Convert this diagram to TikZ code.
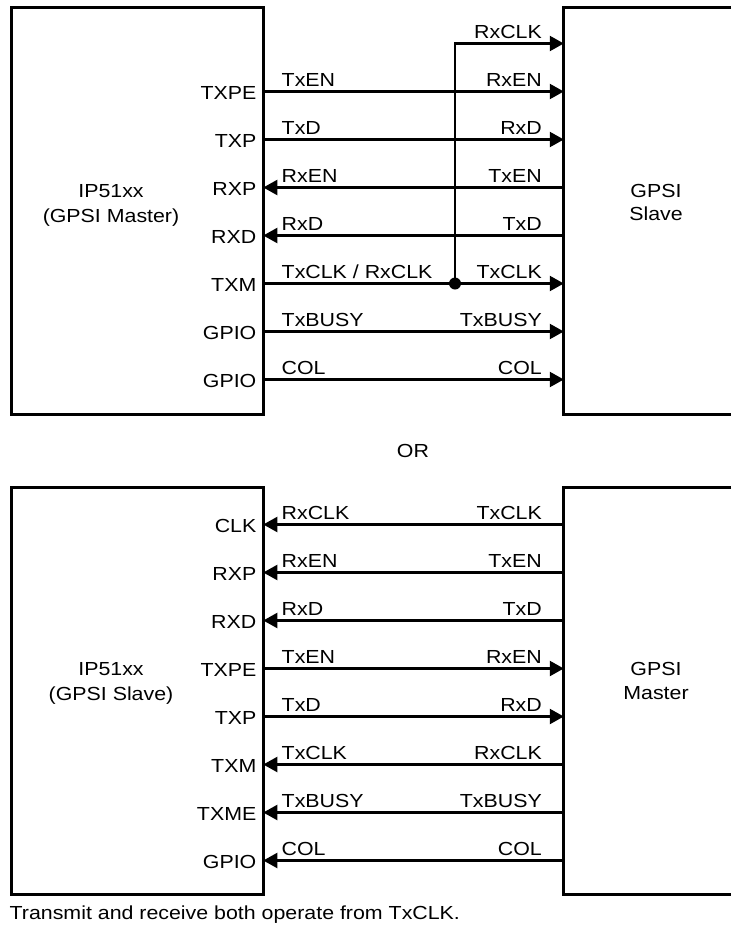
\documentclass[tikz,border=0pt]{standalone}
\usepackage{fontspec}
\setmainfont{Liberation Sans}[FakeStretch=1.13]
\usetikzlibrary{arrows.meta}
\begin{document}
\begin{tikzpicture}[x=1pt,y=-1pt,
  box/.style={draw,line width=3pt,inner sep=0pt,outer sep=0pt,anchor=north west},
  ghost/.style={inner sep=0pt,outer sep=0pt,anchor=north west},
  wire/.style={line width=2.2pt},
  tor/.style={-{Triangle[length=14pt,width=15pt]}},
  tol/.style={{Triangle[length=14pt,width=15pt]}-},
  txt/.style={inner sep=0pt,font=\fontsize{18.9}{24}\selectfont},
  pin/.style={txt,anchor=base east},
  lsig/.style={txt,anchor=base west},
  rsig/.style={txt,anchor=base east},
  ctext/.style={txt,anchor=base},
]
\useasboundingbox (0,0) rectangle (731,926);

% ---------------- top diagram ----------------
\node[box,minimum width=251.8pt,minimum height=407pt] (master) at (11.5,7.5) {};
\node[ghost,minimum width=167.2pt,minimum height=407pt] (slave) at (563.8,7.5) {};
\draw[line width=3pt] (slave.north east) -- (slave.north west) -- (slave.south west) -- (slave.south east);

\node[ctext] (m1) at (111,197) {IP51xx};
\node[ctext] (m2) at (111,222) {(GPSI Master)};
\node[ctext] (s1) at (656,197) {GPSI};
\node[ctext] (s2) at (656,220.5) {Slave};

\foreach \y/\p/\l/\r/\d [count=\i] in {91.5/TXPE/TxEN/RxEN/tor, 139.5/TXP/TxD/RxD/tor, 187.5/RXP/RxEN/TxEN/tol, 235.5/RXD/RxD/TxD/tol, 331.5/GPIO/TxBUSY/TxBUSY/tor, 379.5/GPIO/COL/COL/tor}
{
  \node[pin] (tp\i) at (256.5,\y+7.5) {\p};
  \node[lsig] (tl\i) at (281.5,\y-5) {\l};
  \node[rsig] (tr\i) at (542,\y-5) {\r};
  \draw[wire,\d] (master.east |- 0,\y) -- (slave.west |- 0,\y);
}

% clock row with junction
\coordinate (j) at (455,283.5);
\coordinate (jt) at (455,43.5);
\node[pin] (tpclk) at (256.5,283.5+7.5) {TXM};
\node[lsig] (tlclk) at (281.5,283.5-5) {TxCLK / RxCLK};
\node[rsig] (trclk) at (542,283.5-5) {TxCLK};
\node[rsig] (trrx) at (542,43.5-5) {RxCLK};
\draw[wire,tor] (master.east |- j) -- (slave.west |- j);
\draw[wire,tor] (j) -- (jt) -- (slave.west |- jt);
\fill (j) circle (6pt);

% ---------------- OR ----------------
\node[ctext] (or) at (413,457) {OR};

% ---------------- bottom diagram ----------------
\node[box,minimum width=251.8pt,minimum height=406.3pt] (bslave) at (11.5,487.7) {};
\node[ghost,minimum width=167.2pt,minimum height=406.3pt] (bmaster) at (563.8,487.7) {};
\draw[line width=3pt] (bmaster.north east) -- (bmaster.north west) -- (bmaster.south west) -- (bmaster.south east);

\node[ctext] (b1) at (111,675) {IP51xx};
\node[ctext] (b2) at (111,700) {(GPSI Slave)};
\node[ctext] (b3) at (656,675) {GPSI};
\node[ctext] (b4) at (656,699) {Master};

\foreach \y/\p/\l/\r/\d [count=\i] in {524.5/CLK/RxCLK/TxCLK/tol, 572.5/RXP/RxEN/TxEN/tol, 620.5/RXD/RxD/TxD/tol, 668.5/TXPE/TxEN/RxEN/tor, 716.5/TXP/TxD/RxD/tor, 764.5/TXM/TxCLK/RxCLK/tol, 812.5/TXME/TxBUSY/TxBUSY/tol, 860.5/GPIO/COL/COL/tol}
{
  \node[pin] (bp\i) at (256.5,\y+7.5) {\p};
  \node[lsig] (bl\i) at (281.5,\y-5) {\l};
  \node[rsig] (br\i) at (542,\y-5) {\r};
  \draw[wire,\d] (bslave.east |- 0,\y) -- (bmaster.west |- 0,\y);
}

\node[txt,anchor=base west] (note) at (9.5,919) {Transmit and receive both operate from TxCLK.};
\end{tikzpicture}
\end{document}
